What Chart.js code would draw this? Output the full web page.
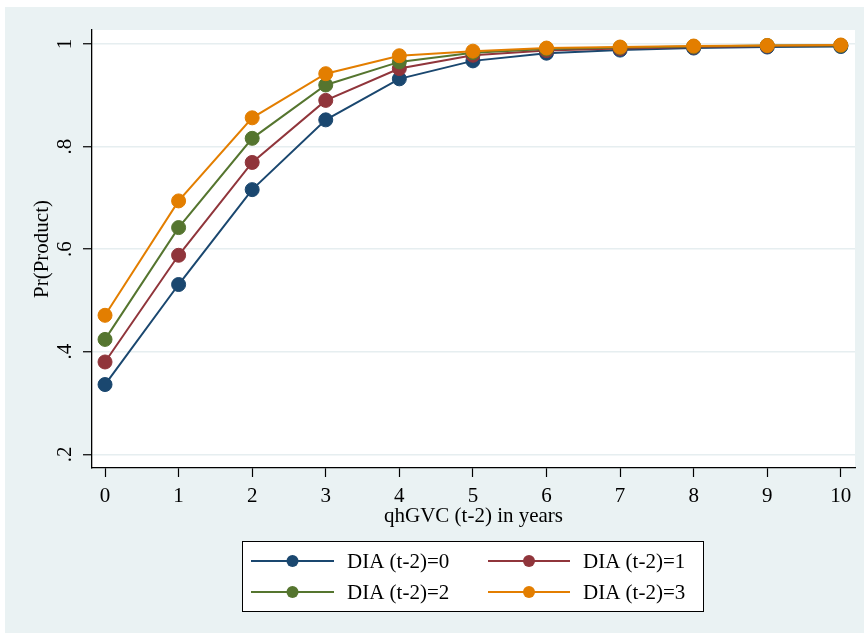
<!DOCTYPE html>
<html>
<head>
<meta charset="utf-8">
<script src="https://cdn.jsdelivr.net/npm/chart.js@4.4.1/dist/chart.umd.min.js"></script>
<style>
  body { margin: 0; background: #fff; }
  canvas { display: block; }
</style>
</head>
<body>
<canvas id="canvas" width="864" height="634"></canvas>
<script>
// values
var years = [0, 1, 2, 3, 4, 5, 6, 7, 8, 9, 10];
var dia0 = [0.336, 0.531, 0.716, 0.852, 0.932, 0.967, 0.982, 0.988, 0.992, 0.994, 0.995];
var dia1 = [0.380, 0.588, 0.769, 0.890, 0.952, 0.978, 0.987, 0.991, 0.994, 0.996, 0.997];
var dia2 = [0.424, 0.642, 0.816, 0.920, 0.965, 0.983, 0.990, 0.993, 0.995, 0.997, 0.997];
var dia3 = [0.471, 0.694, 0.856, 0.942, 0.977, 0.986, 0.992, 0.994, 0.996, 0.997, 0.998];
var seriesNames = ['DIA (t-2)=0', 'DIA (t-2)=1', 'DIA (t-2)=2', 'DIA (t-2)=3'];
var yTicks = [0.2, 0.4, 0.6, 0.8, 1];
var yTickLabels = ['.2', '.4', '.6', '.8', '1'];

var colors = ['#1a476f', '#90353b', '#55752f', '#e37e00'];
var fontFamily = '"Liberation Serif", "Times New Roman", serif';

function points(vals) {
  return vals.map(function(v, i) { return {x: years[i], y: v}; });
}

function makeDataset(i, vals) {
  return {
    label: seriesNames[i],
    data: points(vals),
    borderColor: colors[i],
    backgroundColor: colors[i],
    pointBackgroundColor: colors[i],
    pointBorderColor: colors[i],
    borderWidth: 2,
    pointRadius: 7,
    pointBorderWidth: 1,
    order: 3 - i
  };
}

var backgroundPlugin = {
  id: 'stataBackground',
  beforeDraw: function(chart) {
    var ctx = chart.ctx, a = chart.chartArea;
    ctx.save();
    ctx.fillStyle = '#ffffff';
    ctx.fillRect(0, 0, chart.width, chart.height);
    ctx.fillStyle = '#eaf2f3';
    ctx.fillRect(5, 7, chart.width - 5, chart.height - 8);
    ctx.fillStyle = '#ffffff';
    ctx.fillRect(a.left, a.top, a.right - a.left, a.bottom - a.top);
    ctx.restore();
  }
};

var legendPlugin = {
  id: 'boxLegend',
  afterDraw: function(chart) {
    var ctx = chart.ctx;
    var colLine = [[251, 334], [488, 570]];
    var colText = [347, 583];
    var rows = [561, 592];
    ctx.save();
    ctx.fillStyle = '#ffffff';
    ctx.fillRect(242, 541, 461, 70);
    ctx.strokeStyle = '#000000';
    ctx.lineWidth = 1;
    ctx.strokeRect(242.5, 541.5, 461, 70);
    ctx.font = '21px ' + fontFamily;
    ctx.textBaseline = 'middle';
    ctx.textAlign = 'left';
    chart.data.datasets.forEach(function(ds, i) {
      var col = i % 2, row = Math.floor(i / 2);
      var y = rows[row];
      ctx.strokeStyle = ds.borderColor;
      ctx.lineWidth = 2;
      ctx.beginPath();
      ctx.moveTo(colLine[col][0], y);
      ctx.lineTo(colLine[col][1], y);
      ctx.stroke();
      ctx.fillStyle = ds.borderColor;
      ctx.beginPath();
      ctx.arc((colLine[col][0] + colLine[col][1]) / 2, y, 6, 0, Math.PI * 2);
      ctx.fill();
      ctx.fillStyle = '#000000';
      ctx.fillText(ds.label, colText[col], y + 1);
    });
    ctx.restore();
  }
};

Chart.defaults.font.family = fontFamily;
Chart.defaults.font.size = 21;
Chart.defaults.color = '#000000';

var ctx = document.getElementById('canvas').getContext('2d');
new Chart(ctx, {
  type: 'line',
  data: {
    datasets: [
      makeDataset(0, dia0),
      makeDataset(1, dia1),
      makeDataset(2, dia2),
      makeDataset(3, dia3)
    ]
  },
  options: {
    responsive: false,
    animation: false,
    devicePixelRatio: 1,
    layout: { padding: { left: 10, right: 9, top: 30, bottom: 105 } },
    plugins: { legend: { display: false }, tooltip: { enabled: false } },
    scales: {
      x: {
        type: 'linear',
        min: -0.177,
        max: 10.193,
        afterBuildTicks: function(axis) {
          axis.ticks = years.map(function(v) { return {value: v}; });
        },
        afterFit: function(axis) { axis.height = 61; },
        grid: { drawOnChartArea: false, drawTicks: true, tickLength: 9, tickColor: '#000000', tickWidth: 1.2 },
        border: { display: true, color: '#000000', width: 1.3 },
        ticks: { padding: 7, maxRotation: 0, autoSkip: false, font: { size: 21 } },
        title: { display: true, text: 'qhGVC (t-2) in years', font: { size: 21 }, padding: 0 }
      },
      y: {
        type: 'linear',
        min: 0.1733,
        max: 1.0272,
        afterBuildTicks: function(axis) {
          axis.ticks = yTicks.map(function(v) { return {value: v}; });
        },
        afterFit: function(axis) { axis.width = 82; },
        grid: { color: '#e6eef0', lineWidth: 1.5, drawTicks: true, tickLength: 9, tickColor: '#000000', tickWidth: 1.2 },
        border: { display: true, color: '#000000', width: 1.3 },
        ticks: {
          padding: 10,
          minRotation: 90,
          maxRotation: 90,
          crossAlign: 'center',
          font: { size: 21 },
          callback: function(value, index) { return yTickLabels[index]; }
        },
        title: { display: true, text: 'Pr(Product)', font: { size: 21 }, padding: { top: 20, bottom: 0 } }
      }
    }
  },
  plugins: [backgroundPlugin, legendPlugin]
});
</script>
</body>
</html>
